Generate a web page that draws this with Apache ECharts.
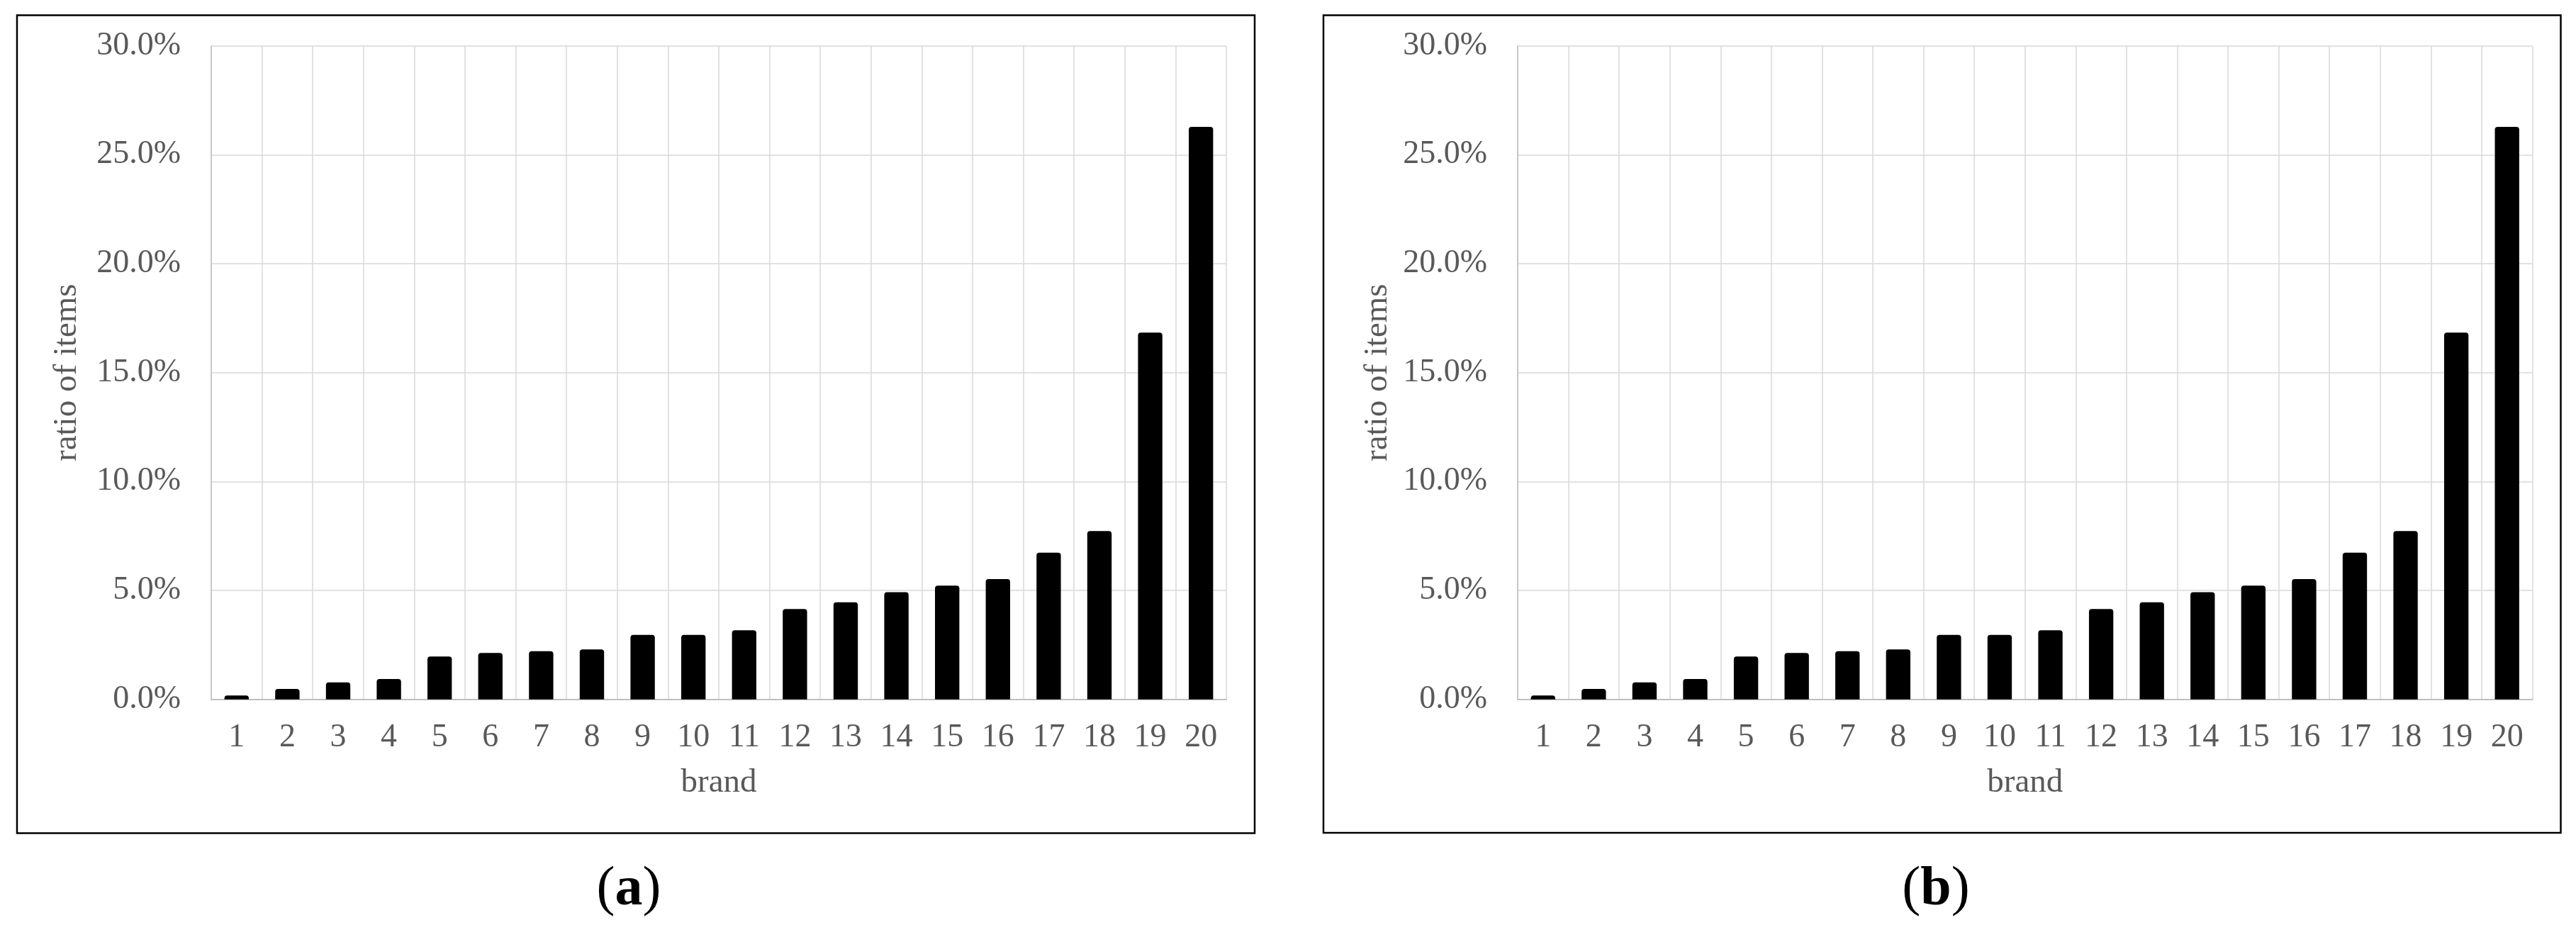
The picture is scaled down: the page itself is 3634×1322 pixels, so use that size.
<!DOCTYPE html>
<html>
<head>
<meta charset="utf-8">
<script src="https://cdn.jsdelivr.net/npm/echarts@6/dist/echarts.min.js"></script>
<style>
  html, body { margin: 0; padding: 0; background: #ffffff; }
  #chart { width: 3634px; height: 1322px; }
</style>
</head>
<body>
<div id="chart"></div>
<script>
// ---- data ----
const brands = ['1','2','3','4','5','6','7','8','9','10','11','12','13','14','15','16','17','18','19','20'];
const ratioA = [0.18, 0.48, 0.78, 0.93, 1.97, 2.13, 2.21, 2.29, 2.96, 2.96, 3.17, 4.15, 4.46, 4.92, 5.22, 5.52, 6.73, 7.73, 16.84, 26.28];
const ratioB = [0.18, 0.48, 0.78, 0.93, 1.97, 2.13, 2.21, 2.29, 2.96, 2.96, 3.17, 4.15, 4.46, 4.92, 5.22, 5.52, 6.73, 7.73, 16.84, 26.28];
const yTicks = [0, 5, 10, 15, 20, 25, 30];
const xTitle = 'brand';
const yTitle = 'ratio of items';
const panelLetters = ['a', 'b'];

const FONT = '"Times New Roman", "Liberation Serif", serif';
const GRAY = '#595959';

function xAxisCfg(gridIndex) {
  return {
    type: 'category', gridIndex: gridIndex, data: brands,
    name: xTitle, nameLocation: 'middle', nameGap: 94,
    nameTextStyle: { fontFamily: FONT, fontSize: 47, color: GRAY },
    axisLine: { show: true, lineStyle: { color: '#bfbfbf', width: 2 } },
    axisTick: { show: false },
    axisLabel: { fontFamily: FONT, fontSize: 46, color: GRAY, margin: 31, interval: 0 },
    splitLine: { show: true, interval: 0, lineStyle: { color: '#d9d9d9', width: 1.5 } }
  };
}
function yAxisCfg(gridIndex, gap) {
  return {
    type: 'value', gridIndex: gridIndex,
    min: yTicks[0], max: yTicks[yTicks.length - 1], interval: yTicks[1] - yTicks[0],
    name: yTitle, nameLocation: 'middle', nameRotate: 90, nameGap: gap,
    nameTextStyle: { fontFamily: FONT, fontSize: 47, color: GRAY },
    axisLine: { show: true, lineStyle: { color: '#bfbfbf', width: 1.5 } },
    axisTick: { show: false },
    axisLabel: { fontFamily: FONT, fontSize: 46, color: GRAY, margin: 43,
      formatter: v => v.toFixed(1) + '%' },
    splitLine: { show: true, lineStyle: { color: '#d9d9d9', width: 1.5 } }
  };
}
function barSeries(idx, values) {
  return {
    type: 'bar', xAxisIndex: idx, yAxisIndex: idx, data: values,
    barWidth: '48%',
    itemStyle: { color: '#000000', borderRadius: [4, 4, 0, 0] },
    silent: true
  };
}
function panelLabel(cx, letter) {
  return {
    type: 'text', x: cx, y: 1256,
    style: {
      text: '{p|(}{b|' + letter + '}{p|)}',
      align: 'center', verticalAlign: 'middle',
      rich: {
        p: { fontFamily: FONT, fontSize: 78, fill: '#000', color: '#000' },
        b: { fontFamily: FONT, fontSize: 78, fontWeight: 'bold', fill: '#000', color: '#000' }
      }
    }
  };
}

const chart = echarts.init(document.getElementById('chart'), null, { renderer: 'canvas' });
chart.setOption({
  backgroundColor: '#ffffff',
  animation: false,
  grid: [
    { left: 298, top: 64.7, width: 1432, height: 922 },
    { left: 2141, top: 64.7, width: 1431.5, height: 922 }
  ],
  xAxis: [xAxisCfg(0), xAxisCfg(1)],
  yAxis: [yAxisCfg(0, 180), yAxisCfg(1, 174)],
  series: [barSeries(0, ratioA), barSeries(1, ratioB)],
  graphic: [
    { type: 'rect', shape: { x: 24, y: 21.5, width: 1746, height: 1154 },
      style: { fill: 'none', stroke: '#000', lineWidth: 2.5 }, z: 10 },
    { type: 'rect', shape: { x: 1867, y: 21.5, width: 1745.5, height: 1153.5 },
      style: { fill: 'none', stroke: '#000', lineWidth: 2.5 }, z: 10 },
    panelLabel(887, panelLetters[0]),
    panelLabel(2731, panelLetters[1])
  ]
});
</script>
</body>
</html>
